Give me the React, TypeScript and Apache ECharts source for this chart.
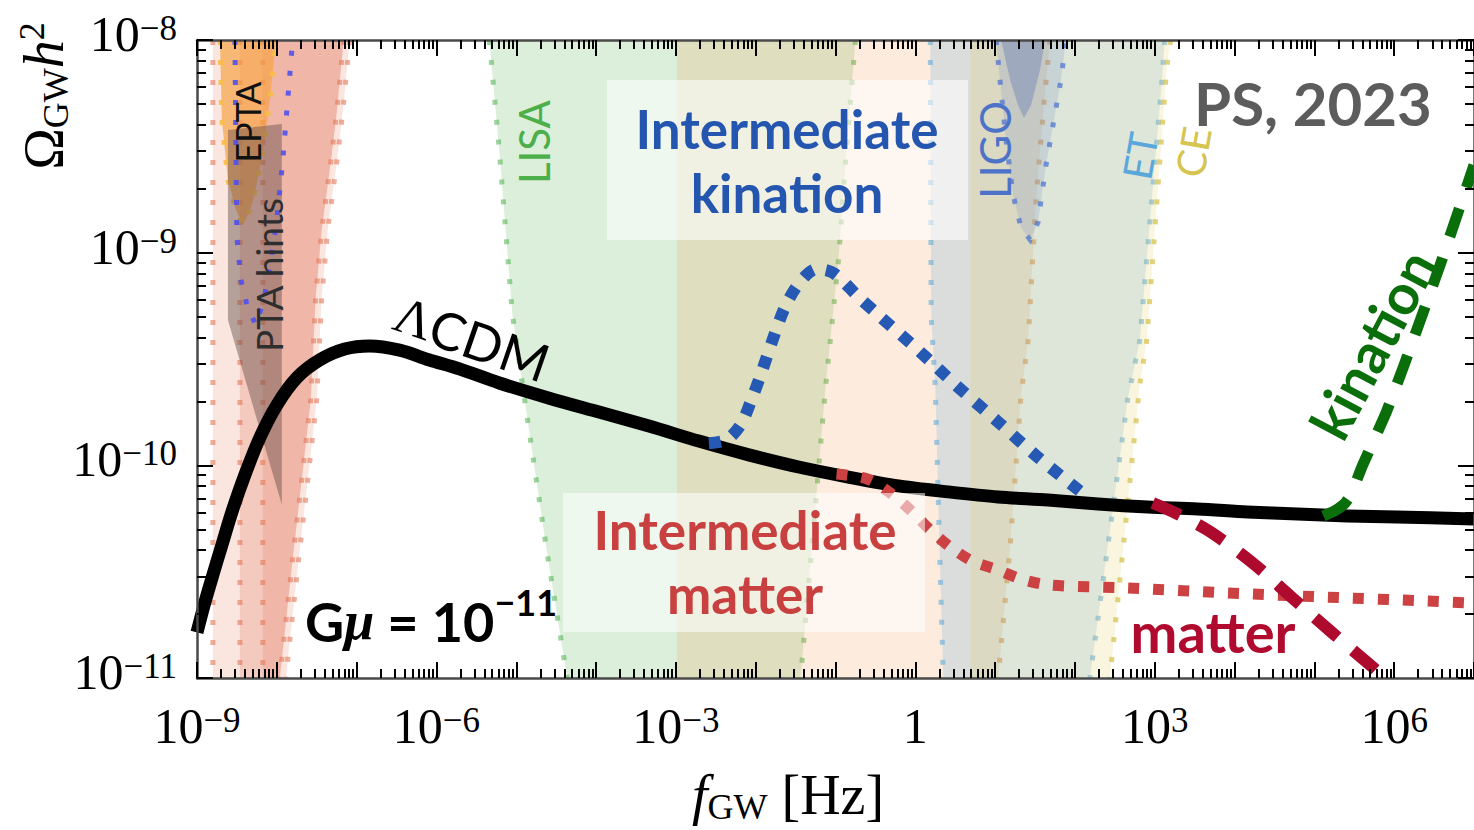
import React, { useEffect, useRef } from "react";
import * as echarts from "echarts";

// ---------- data: frequency f [Hz], Omega_GW h^2 ----------
const lcdmF = [1e-9, 1.26e-9, 1.58e-9, 2.05e-9, 2.74e-9, 3.98e-9, 6.13e-9, 1e-8, 1.78e-8, 3.45e-8, 7.08e-8, 1.45e-7, 3.45e-7, 8.18e-7, 1.94e-6, 6.13e-6, 2.59e-5, 1.09e-4, 4.6e-4, 1.94e-3, 8.18e-3, 3.45e-2, 0.145, 0.613, 2.59, 10.9, 46, 194, 818, 3450, 1.45e4, 6.13e4, 2.59e5, 1.09e6, 1e7];
const lcdmO = [1.64e-11, 2.28e-11, 3.05e-11, 4.22e-11, 6.04e-11, 9.02e-11, 1.35e-10, 1.92e-10, 2.58e-10, 3.13e-10, 3.52e-10, 3.64e-10, 3.48e-10, 3.13e-10, 2.84e-10, 2.44e-10, 2.07e-10, 1.78e-10, 1.53e-10, 1.3e-10, 1.12e-10, 9.82e-11, 8.81e-11, 8.0e-11, 7.5e-11, 7.1e-11, 6.87e-11, 6.58e-11, 6.37e-11, 6.24e-11, 6.04e-11, 5.9e-11, 5.78e-11, 5.71e-11, 5.6e-11];

const intKinF = [2.59e-3, 4.34e-3, 6.49e-3, 8.66e-3, 1.155e-2, 1.58e-2, 2.3e-2, 3.45e-2, 5.79e-2, 9.44e-2, 0.194, 0.345, 1.09, 3.45, 10.9, 34.5, 119];
const intKinO = [1.27e-10, 1.32e-10, 1.55e-10, 1.99e-10, 2.66e-10, 3.76e-10, 5.49e-10, 7.13e-10, 8.38e-10, 8.02e-10, 6.19e-10, 5.09e-10, 3.48e-10, 2.33e-10, 1.6e-10, 1.09e-10, 7.5e-11];

const intMatF = [0.103, 0.251, 0.487, 0.891, 1.54, 2.74, 5.16, 10.9, 21.1, 46, 460, 8180, 1.45e5, 2.59e6, 1e7];
const intMatO = [9.1e-11, 8.63e-11, 7.41e-11, 6.1e-11, 4.96e-11, 4.13e-11, 3.55e-11, 3.22e-11, 2.92e-11, 2.74e-11, 2.65e-11, 2.51e-11, 2.4e-11, 2.3e-11, 2.25e-11];

const matF = [944, 1940, 5010, 1.68e4, 5.31e4, 1.68e5, 5.31e5, 8.66e5];
const matO = [6.65e-11, 5.9e-11, 4.86e-11, 3.48e-11, 2.38e-11, 1.63e-11, 1.13e-11, 9.57e-12];

const kinF = [1.3e5, 1.78e5, 2.37e5, 2.9e5, 3.98e5, 7.72e5, 1.33e6, 2.24e6, 3.76e6, 6.13e6, 1e7];
const kinO = [5.78e-11, 6.1e-11, 6.58e-11, 7.33e-11, 9.93e-11, 1.73e-10, 2.96e-10, 5.09e-10, 8.75e-10, 1.5e-9, 2.58e-9];

// sensitivity regions ([f, Omega] vertices)
const ptaOuterEdge = [[8.18e-8, 1e-8], [6.68e-8, 4.54e-9], [5.62e-8, 2.64e-9], [4.34e-8, 1.28e-9], [3.65e-8, 6.19e-10], [3.16e-8, 2.03e-10], [2.44e-8, 8.53e-11], [1.83e-8, 3.33e-11], [1.37e-8, 1.22e-11], [1.3e-8, 1e-11]];
const ptaInnerEdge = [[6.88e-8, 1e-8], [5.62e-8, 4.54e-9], [4.73e-8, 2.64e-9], [3.65e-8, 1.28e-9], [3.07e-8, 6.19e-10], [2.66e-8, 2.03e-10], [2.05e-8, 8.53e-11], [1.54e-8, 3.33e-11], [1.155e-8, 1.22e-11], [1.09e-8, 1e-11]];
const ptaLeftA = [[1.58e-9, 1e-8], [1.58e-9, 1e-11]];
const ptaLeftB = [[3.45e-9, 1e-8], [3.45e-9, 1e-11]];
const ptaLeftC = [[6.68e-9, 1e-8], [6.68e-9, 1e-11]];
const eptaCurve = [[1.94e-9, 1e-8], [2.05e-9, 4.21e-9], [2.44e-9, 2.2e-9], [3.07e-9, 1.59e-9], [3.76e-9, 1.35e-9], [4.87e-9, 1.67e-9], [6.49e-9, 2.73e-9], [8.18e-9, 5.23e-9], [9.72e-9, 1e-8]];
const ptaHints = [[2.44e-9, 3.77e-9], [1.155e-8, 4.03e-9], [1.155e-8, 6.52e-11], [2.44e-9, 4.82e-10]];
const nanogravCurve = [[2.99e-9, 1e-8], [3.07e-9, 3.04e-9], [3.16e-9, 1.19e-9], [3.55e-9, 7.45e-10], [4.22e-9, 5.68e-10], [5.46e-9, 4.57e-10], [6.88e-9, 5.98e-10], [8.41e-9, 9.04e-10], [1e-8, 1.43e-9], [1.19e-8, 2.73e-9], [1.37e-8, 5.23e-9], [1.58e-8, 1e-8]];
const lisaLeft = [[4.6e-6, 1e-8], [6.13e-6, 3.04e-9], [8.91e-6, 5.2e-10], [1.26e-5, 2.09e-10], [2.37e-5, 4.13e-11], [4.34e-5, 1e-11]];
const lisaRight = [[0.178, 1e-8], [0.137, 3.04e-9], [0.109, 9.25e-10], [7.5e-2, 2.33e-10], [5.79e-2, 7.41e-11], [3.65e-2, 1e-11]];
const midLeft = [[1.03e-3, 1e-8], [1.03e-3, 1e-11]];
const midRight = [[48.7, 1e-8], [41, 5.06e-9], [32.5, 1.77e-9], [25.9, 3.85e-10], [21.1, 2.14e-10], [15.4, 4.13e-11], [10.9, 1e-11]];
const etLeft = [[1.54, 1e-8], [1.58, 4.99e-10], [1.78, 2.33e-10], [2.0, 4.46e-11], [2.24, 1e-11]];
const etRight = [[1333, 1e-8], [1223, 6.28e-9], [649, 3.85e-10], [460, 2.07e-10], [154, 1e-11]];
const ceLeft = [[4.87, 1e-8], [4.87, 1e-11]];
const ceRight = [[1585, 1e-8], [1413, 7.46e-9], [794, 3.88e-10], [649, 2.39e-10], [274, 1e-11]];
const ligoOuter = [[10.3, 1e-8], [11.5, 6.49e-9], [13.7, 3.39e-9], [16.8, 1.87e-9], [21.1, 1.31e-9], [27.4, 1.15e-9], [34.5, 1.39e-9], [43.4, 2.58e-9], [54.6, 4.21e-9], [66.8, 6.49e-9], [77.2, 1e-8]];
const ligoInner = [[11.9, 1e-8], [15.4, 6.49e-9], [19.4, 4.94e-9], [23.0, 4.3e-9], [28.2, 4.94e-9], [36.5, 7.22e-9], [42.2, 1e-8]];

// axis tick exponents
const xLabelExps = [-9, -6, -3, 0, 3, 6];
const yLabelExps = [-11, -10, -9, -8];

// ---------- helpers ----------
const lg = Math.log10;
const toXY = (f: number[], o: number[]) => f.map((v, i) => [lg(v), lg(o[i])]);
const rev = (a: number[][]) => a.slice().reverse();

const xMajor: number[] = [];
for (let d = -9; d <= 7; d++) xMajor.push(d);
const xMinor: number[] = [];
for (let d = -9; d <= 6; d++) for (let k = 2; k <= 9; k++) xMinor.push(d + lg(k));
const yMajor: number[] = [-11, -10, -9, -8];
const yMinor: number[] = [];
for (let d = -11; d <= -9; d++) for (let k = 2; k <= 9; k++) yMinor.push(d + lg(k));

const SERIF = "Liberation Serif";
const SANS = "Lato";
const MINUS = "\u2212";

type Band = { poly: number[][]; fill: string; edges: number[][][]; dot?: string };
const bands: Band[] = [
  { poly: [...ptaLeftA, ...rev(ptaOuterEdge)], fill: "rgba(232,125,95,0.2)", edges: [ptaLeftA, ptaOuterEdge], dot: "rgba(228,120,90,0.6)" },
  { poly: [...ptaLeftB, ...rev(ptaInnerEdge)], fill: "rgba(228,120,90,0.25)", edges: [ptaLeftB, ptaInnerEdge], dot: "rgba(228,120,90,0.6)" },
  { poly: [...ptaLeftC, ...rev(ptaInnerEdge)], fill: "rgba(228,120,90,0.22)", edges: [ptaLeftC], dot: "rgba(228,120,90,0.6)" },
  { poly: eptaCurve, fill: "rgba(248,160,60,0.65)", edges: [eptaCurve], dot: "rgba(246,190,70,0.9)" },
  { poly: ptaHints, fill: "rgba(100,75,70,0.45)", edges: [] },
  { poly: [], fill: "none", edges: [nanogravCurve], dot: "rgba(80,80,240,0.9)" },
  { poly: [...lisaLeft, ...rev(lisaRight)], fill: "rgba(77,175,74,0.2)", edges: [lisaLeft, lisaRight], dot: "rgba(77,175,74,0.55)" },
  { poly: [...midLeft, ...rev(midRight)], fill: "rgba(242,150,70,0.18)", edges: [midRight], dot: "rgba(230,140,60,0.6)" },
  { poly: [...etLeft, ...rev(etRight)], fill: "rgba(86,165,216,0.2)", edges: [etLeft, etRight], dot: "rgba(86,165,216,0.55)" },
  { poly: [...ceLeft, ...rev(ceRight)], fill: "rgba(220,200,80,0.18)", edges: [ceRight], dot: "rgba(215,195,80,0.75)" },
  { poly: ligoOuter, fill: "rgba(75,110,200,0.15)", edges: [ligoOuter], dot: "rgba(70,110,210,0.7)" },
  { poly: ligoInner, fill: "rgba(70,100,180,0.3)", edges: [] },
];

const expLabel = (v: number) => {
  const e = Math.round(v);
  if (e === 0) return "{b|1}";
  return `{b|10}{s|${e < 0 ? MINUS : ""}${Math.abs(e)}}`;
};
const labelRich = {
  b: { fontFamily: SERIF, fontSize: 50, lineHeight: 58, padding: [0, 0, 10, 0], verticalAlign: "bottom", color: "#000" },
  s: { fontFamily: SERIF, fontSize: 35, lineHeight: 35, verticalAlign: "top", color: "#000" },
};

const spine = { color: "#4a4a4a", width: 2.5 };
const tickStyle = { color: "#000", width: 2 };

function mkAxis(min: number, max: number, position: string, major: number[], minor: number[], label: any) {
  const base = { type: "value", min, max, position, z: 10, splitLine: { show: false }, axisPointer: { show: false } };
  return [
    {
      ...base,
      axisLine: { show: true, onZero: false, lineStyle: spine },
      axisTick: { show: true, inside: true, length: 16, customValues: major, lineStyle: tickStyle },
      axisLabel: label || { show: false },
    },
    {
      ...base,
      axisLine: { show: false, onZero: false },
      axisTick: { show: true, inside: true, length: 9, customValues: minor, lineStyle: tickStyle },
      axisLabel: { show: false },
    },
  ];
}

function txt(text: string, x: number, y: number, opts: any, rotDeg = 0) {
  return {
    type: "text",
    x,
    y,
    rotation: (rotDeg * Math.PI) / 180,
    z: 60,
    silent: true,
    style: { text, align: "center", verticalAlign: "middle", ...opts },
  };
}

export default function App() {
  const ref = useRef<HTMLDivElement>(null);
  useEffect(() => {
    if (!ref.current) return;
    const chart = echarts.init(ref.current, null, { renderer: "svg" });

    const lineSeries = (name: string, f: number[], o: number[], color: string, width: number, dash: any, z: number, smooth = 0.3) => ({
      type: "line",
      name,
      data: toXY(f, o),
      xAxisIndex: 0,
      yAxisIndex: 0,
      showSymbol: false,
      symbol: "none",
      smooth,
      z,
      silent: true,
      lineStyle: { color, width, type: dash, cap: "butt", join: "round" },
      clip: true,
    });

    const bigBold = { fontFamily: SANS, fontWeight: "bold", fontSize: 53 };

    const option: any = {
      animation: false,
      backgroundColor: "#fff",
      grid: { left: 197, top: 40, width: 1280, height: 638, containLabel: false },
      xAxis: [
        ...mkAxis(-9, 7, "bottom", xMajor, xMinor, {
          show: true,
          customValues: xLabelExps,
          formatter: expLabel,
          rich: labelRich,
          margin: 25,
        }),
        ...mkAxis(-9, 7, "top", xMajor, xMinor, null),
      ],
      yAxis: [
        ...mkAxis(-11, -8, "left", yMajor, yMinor, {
          show: true,
          customValues: yLabelExps,
          formatter: expLabel,
          rich: labelRich,
          margin: 20,
        }),
        ...mkAxis(-11, -8, "right", yMajor, yMinor, null),
      ],
      series: [
        {
          type: "custom",
          coordinateSystem: "cartesian2d",
          xAxisIndex: 0,
          yAxisIndex: 0,
          z: 1,
          silent: true,
          clip: true,
          data: bands.map(() => [-9, -11]),
          renderItem: (params: any, api: any) => {
            const b = bands[params.dataIndex];
            const c = (p: number[]) => api.coord([lg(p[0]), lg(p[1])]);
            const children: any[] = [];
            if (b.poly.length) {
              children.push({ type: "polygon", shape: { points: b.poly.map(c) }, style: { fill: b.fill, stroke: "none" } });
            }
            b.edges.forEach((e) => {
              children.push({
                type: "polyline",
                shape: { points: e.map(c) },
                style: { fill: "none", stroke: b.dot, lineWidth: 5, lineDash: [5, 15] },
              });
            });
            return { type: "group", children };
          },
        },
        lineSeries("LCDM", lcdmF, lcdmO, "#000", 13, "solid", 3, 0.3),
        lineSeries("Intermediate kination", intKinF, intKinO, "#2659b3", 12, [12, 13], 4),
        lineSeries("Intermediate matter", intMatF, intMatO, "#cc4141", 11, [11, 14], 4),
        lineSeries("matter", matF, matO, "#ad0a2e", 12, [30, 20], 4),
        lineSeries("kination", kinF, kinO, "#0a6e0a", 11, [30, 22], 4, 0.15),
      ],
      graphic: {
        elements: [
          { type: "rect", z: 50, silent: true, shape: { x: 607, y: 80, width: 361, height: 160 }, style: { fill: "rgba(255,255,255,0.55)" } },
          { type: "rect", z: 50, silent: true, shape: { x: 563, y: 493, width: 362, height: 139 }, style: { fill: "rgba(255,255,255,0.55)" } },
          txt("Intermediate", 787, 128, { ...bigBold, fill: "#2456b0" }),
          txt("kination", 787, 192, { ...bigBold, fill: "#2456b0" }),
          txt("Intermediate", 745, 529, { ...bigBold, fill: "#c8403f" }),
          txt("matter", 745, 593, { ...bigBold, fill: "#c8403f" }),
          txt("matter", 1213, 631, { fontFamily: SANS, fontWeight: "bold", fontSize: 56, fill: "#b00b2f" }),
          txt("kination", 1372, 344, { fontFamily: SANS, fontWeight: "bold", fontSize: 56, fill: "#0a6e0a" }, 62),
          txt("PS, 2023", 1194, 103, { fontFamily: SANS, fontWeight: "bold", fontSize: 60, fill: "#5c5c5c", align: "left" }),
          txt("EPTA", 247, 122, { fontFamily: SANS, fontSize: 34, fill: "#111" }, 90),
          txt("PTA hints", 268, 275, { fontFamily: SANS, fontSize: 37, fill: "#2e2e2e" }, 90),
          txt("LISA", 534, 142, { fontFamily: SANS, fontSize: 42, fill: "#4daf4a" }, 90),
          txt("LIGO", 995, 150, { fontFamily: SANS, fontSize: 42, fill: "#4d73c9" }, 90),
          txt("ET", 1140, 156, { fontFamily: SANS, fontSize: 40, fill: "#5aa7dc" }, 80),
          txt("CE", 1193, 152, { fontFamily: SANS, fontSize: 40, fill: "#d6c450" }, 80),
          txt("{g|\u039B}{s|CDM}", 472, 338, {
            rich: {
              g: { fontFamily: SERIF, fontSize: 52, fill: "#000" },
              s: { fontFamily: SANS, fontSize: 52, fill: "#000" },
            },
          }, -19),
          {
            type: "text",
            x: 305,
            y: 584,
            z: 60,
            silent: true,
            style: {
              text: `{a|G}{m|\u03BC}{a| = 10}{s|${MINUS}11}`,
              align: "left",
              verticalAlign: "top",
              rich: {
                a: { fontFamily: SANS, fontWeight: "bold", fontSize: 54, lineHeight: 64, verticalAlign: "bottom", fill: "#000" },
                m: { fontFamily: SERIF, fontStyle: "italic", fontWeight: "bold", fontSize: 54, lineHeight: 64, verticalAlign: "bottom", fill: "#000" },
                s: { fontFamily: SANS, fontWeight: "bold", fontSize: 36, lineHeight: 36, verticalAlign: "top", fill: "#000" },
              },
            },
          },
          {
            type: "text",
            x: 44,
            y: 96,
            rotation: Math.PI / 2,
            z: 60,
            silent: true,
            style: {
              text: "{o|\u03A9}{d|GW}{h|h}{u|2}",
              align: "center",
              verticalAlign: "middle",
              rich: {
                o: { fontFamily: SERIF, fontSize: 56, lineHeight: 60, verticalAlign: "middle", fill: "#000" },
                d: { fontFamily: SERIF, fontSize: 36, lineHeight: 36, verticalAlign: "bottom", fill: "#000" },
                h: { fontFamily: SERIF, fontStyle: "italic", fontSize: 56, lineHeight: 60, verticalAlign: "middle", fill: "#000" },
                u: { fontFamily: SERIF, fontSize: 36, lineHeight: 36, verticalAlign: "top", fill: "#000" },
              },
            },
          },
          {
            type: "text",
            x: 788,
            y: 765,
            z: 60,
            silent: true,
            style: {
              text: "{f|f}{d|GW}{r| [Hz]}",
              align: "center",
              verticalAlign: "top",
              rich: {
                f: { fontFamily: SERIF, fontStyle: "italic", fontSize: 56, lineHeight: 60, verticalAlign: "middle", fill: "#000" },
                d: { fontFamily: SERIF, fontSize: 36, lineHeight: 36, verticalAlign: "bottom", fill: "#000" },
                r: { fontFamily: SERIF, fontSize: 56, lineHeight: 60, verticalAlign: "middle", fill: "#000" },
              },
            },
          },
        ],
      },
    };

    chart.setOption(option);
    return () => chart.dispose();
  }, []);

  return (
    <div
      ref={ref}
      style={{ position: "absolute", left: 0, top: 0, width: 1474, height: 830, background: "#fff" }}
    />
  );
}
